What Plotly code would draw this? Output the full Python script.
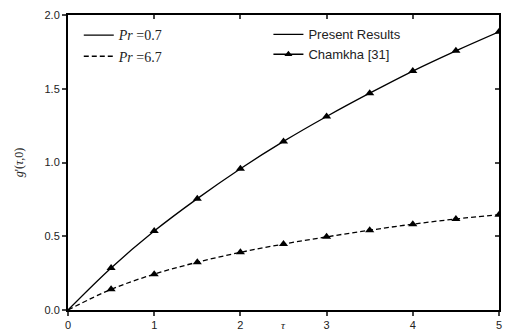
import plotly.graph_objects as go

tau = [0, 0.5, 1, 1.5, 2, 2.5, 3, 3.5, 4, 4.5, 5]
g_pr07 = [0, 0.285, 0.535, 0.755, 0.958, 1.143, 1.312, 1.470, 1.620, 1.757, 1.886]
g_pr67 = [0, 0.140, 0.243, 0.324, 0.391, 0.447, 0.496, 0.541, 0.582, 0.617, 0.646]

tau_ch = [0.5, 1, 1.5, 2, 2.5, 3, 3.5, 4, 4.5, 5]
ch_pr07 = [0.285, 0.535, 0.755, 0.958, 1.143, 1.312, 1.470, 1.620, 1.757, 1.886]
ch_pr67 = [0.140, 0.243, 0.324, 0.391, 0.447, 0.496, 0.541, 0.582, 0.617, 0.646]

x_ticks = [0, 1, 2, 3, 4, 5]
y_ticks = [0.0, 0.5, 1.0, 1.5, 2.0]
y_tick_text = ["0.0", "0.5", "1.0", "1.5", "2.0"]

fig = go.Figure()
fig.add_trace(go.Scatter(x=tau, y=g_pr07, mode="lines", line=dict(color="black", width=1.3, shape="spline"),
                         name="<i>Pr</i> =0.7", legend="legend"))
fig.add_trace(go.Scatter(x=tau, y=g_pr67, mode="lines", line=dict(color="black", width=1.3, dash="5px,3px", shape="spline"),
                         name="<i>Pr</i> =6.7", legend="legend"))
fig.add_trace(go.Scatter(x=tau_ch, y=ch_pr07, mode="markers", marker=dict(symbol="triangle-up", size=8, color="black"),
                         showlegend=False))
fig.add_trace(go.Scatter(x=tau_ch, y=ch_pr67, mode="markers", marker=dict(symbol="triangle-up", size=8, color="black"),
                         showlegend=False))
fig.add_trace(go.Scatter(x=[None], y=[None], mode="lines", line=dict(color="black", width=1.3),
                         name="Present Results", legend="legend2"))
fig.add_trace(go.Scatter(x=[None], y=[None], mode="lines+markers", line=dict(color="black", width=1.3),
                         marker=dict(symbol="triangle-up", size=7, color="black"),
                         name="Chamkha [31]", legend="legend2"))
fig.add_trace(go.Scatter(x=[None], y=[None], xaxis="x2", yaxis="y2", showlegend=False))

axis_font = dict(family="Liberation Sans, Arial", size=11, color="#222")

fig.update_layout(
    width=506, height=335,
    margin=dict(l=68, r=4, t=15, b=23),
    plot_bgcolor="white", paper_bgcolor="white",
    xaxis=dict(range=[0, 5], tickvals=x_ticks, ticks="outside", ticklen=4, tickwidth=2,
               showline=True, linewidth=2, linecolor="black", showgrid=False, zeroline=False,
               tickfont=axis_font),
    yaxis=dict(range=[0, 2], tickvals=y_ticks, ticktext=y_tick_text, ticks="outside", ticklen=4, tickwidth=2,
               showline=True, linewidth=2, linecolor="black", showgrid=False, zeroline=False,
               tickfont=axis_font,
               title=dict(text="<i>g</i>'(<i>τ</i>,0)", font=dict(family="Liberation Serif", size=12, color="#222"),
                          standoff=18)),
    xaxis2=dict(overlaying="x", side="top", range=[0, 5], tickvals=x_ticks, ticks="inside", ticklen=4, tickwidth=2,
                showticklabels=False, showline=True, linewidth=2, linecolor="black", showgrid=False, zeroline=False),
    yaxis2=dict(overlaying="y", side="right", range=[0, 2], tickvals=y_ticks, ticks="inside", ticklen=4, tickwidth=2,
                showticklabels=False, showline=True, linewidth=2, linecolor="black", showgrid=False, zeroline=False),
    legend=dict(x=0.025, y=0.985, xanchor="left", yanchor="top", bgcolor="rgba(0,0,0,0)",
                font=dict(family="Liberation Serif", size=14, color="#222"), tracegroupgap=0, itemwidth=30),
    legend2=dict(x=0.465, y=0.985, xanchor="left", yanchor="top", bgcolor="rgba(0,0,0,0)",
                 font=dict(family="Liberation Sans, Arial", size=13, color="#222"), tracegroupgap=0, itemwidth=30),
    showlegend=True,
    annotations=[dict(text="<i>τ</i>", x=2.5, xref="x", y=-0.05, yref="paper", showarrow=False,
                      yanchor="middle", font=dict(family="Liberation Serif", size=11, color="#222"))],
)

fig.write_html("out.html", config={"displayModeBar": False},
               post_script="document.body.style.margin='0';document.body.style.padding='0';")
